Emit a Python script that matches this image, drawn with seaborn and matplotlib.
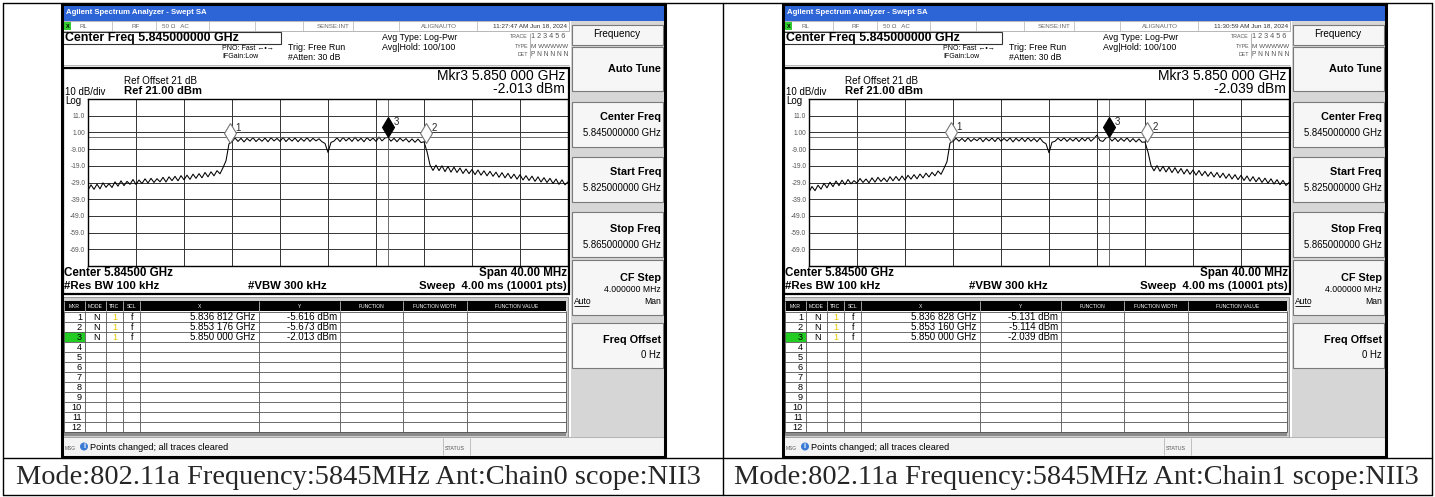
import matplotlib
matplotlib.use('Agg')
import matplotlib.pyplot as plt
import matplotlib.patches as patches
import matplotlib.transforms as mtransforms
import numpy as np
import seaborn as sns


# sweep 5.825 - 5.865 GHz, one reading every 0.25 MHz
start_ghz = 5.825
stop_ghz = 5.865
freq_ghz = np.linspace(start_ghz, stop_ghz, 161)

trace_ch0 = [
	-33.6, -30.4, -33.1, -30.0, -32.8, -29.2, -31.9, -29.7, -32.0, -28.6,
	-31.2, -28.0, -30.9, -28.3, -30.1, -27.2, -30.2, -27.5, -29.6, -26.8,
	-29.3, -26.5, -29.0, -26.7, -28.6, -25.9, -28.7, -25.6, -27.9, -25.3,
	-28.0, -24.9, -27.4, -24.6, -27.1, -24.0, -26.5, -23.7, -26.2, -23.0,
	-25.6, -22.6, -25.0, -21.9, -23.8, -20.1, -16.0, -5.8, -4.6, -2.3,
	-4.4, -2.5, -4.7, -2.6, -4.2, -2.1, -4.5, -2.7, -4.3, -2.4,
	-4.6, -2.2, -4.1, -2.6, -4.4, -2.0, -4.5, -2.5, -4.2, -2.3,
	-4.6, -2.6, -4.3, -2.2, -4.4, -2.5, -4.1, -2.8, -4.6, -5.6,
	-11.0, -5.0, -4.2, -2.3, -4.5, -2.0, -4.1, -2.4, -4.4, -1.9,
	-4.2, -2.5, -4.6, -2.1, -4.0, -2.4, -4.4, -1.8, -4.1, -2.3,
	-2.0, -4.3, -2.5, -4.6, -2.4, -4.2, -2.7, -4.8, -2.9, -4.9,
	-3.0, -5.1, -4.6, -10.5, -18.5, -21.8, -18.6, -21.9, -19.0, -22.5,
	-19.4, -22.8, -19.8, -23.0, -20.3, -23.6, -20.9, -23.7, -21.2, -24.3,
	-21.5, -24.6, -22.0, -25.0, -22.3, -25.3, -22.8, -25.9, -23.1, -26.2,
	-23.5, -26.6, -24.0, -27.0, -24.3, -27.5, -24.9, -27.8, -25.2, -28.3,
	-25.6, -28.7, -26.1, -29.0, -26.5, -29.6, -26.9, -30.1, -27.4, -30.4, -28.6,
]

trace_ch1 = [
	-34.8, -31.4, -33.9, -30.6, -33.0, -29.5, -32.2, -28.8, -31.5, -28.1,
	-30.9, -27.6, -30.3, -27.2, -29.8, -27.9, -29.4, -26.6, -29.0, -26.9,
	-29.2, -26.2, -28.8, -25.9, -28.4, -26.3, -28.6, -25.5, -28.0, -25.4,
	-27.9, -25.1, -27.6, -24.7, -27.0, -24.3, -26.8, -23.9, -26.3, -23.4,
	-25.7, -22.9, -25.0, -22.1, -24.1, -20.5, -16.5, -5.4, -4.4, -2.5,
	-4.3, -2.6, -4.5, -2.3, -4.4, -2.7, -4.0, -2.2, -4.6, -2.5,
	-4.1, -2.4, -4.5, -2.1, -4.3, -2.6, -4.2, -2.3, -4.7, -2.5,
	-4.2, -2.4, -4.5, -2.2, -4.3, -2.6, -4.6, -2.4, -4.7, -5.8,
	-11.2, -4.9, -4.3, -2.5, -4.1, -2.2, -4.4, -2.6, -4.2, -2.3,
	-4.5, -2.4, -4.1, -2.0, -4.3, -2.6, -0.6, -3.9, -4.4, -2.2,
	-2.0, -4.2, -2.4, -4.5, -2.6, -4.3, -2.3, -4.6, -2.7, -4.7,
	-2.9, -4.9, -4.7, -10.8, -18.8, -22.0, -18.9, -22.3, -19.3, -22.7,
	-19.8, -23.1, -20.1, -23.4, -20.6, -23.9, -21.1, -24.1, -21.5, -24.6,
	-21.8, -24.9, -22.3, -25.3, -22.7, -25.7, -23.0, -26.1, -23.4, -26.5,
	-23.9, -26.9, -24.3, -27.3, -24.7, -27.8, -25.1, -28.2, -25.5, -28.6,
	-26.0, -29.0, -26.4, -29.4, -26.8, -29.9, -27.3, -30.3, -27.7, -30.8, -29.0,
]

mkr_freq_ch0 = [5.836812, 5.853176, 5.850000]
mkr_level_ch0 = [-5.616, -5.673, -2.013]
mkr_freq_ch1 = [5.836828, 5.853160, 5.850000]
mkr_level_ch1 = [-5.131, -5.114, -2.039]

sweep_times = ["11:27:47 AM Jun 18, 2024", "11:30:59 AM Jun 18, 2024"]
captions = [
	"Mode:802.11a Frequency:5845MHz Ant:Chain0 scope:NII3",
	"Mode:802.11a Frequency:5845MHz Ant:Chain1 scope:NII3",
]

grid_levels = [21, 11, 1, -9, -19, -29, -39, -49, -59, -69, -79]
level_labels = ["", "11.0", "1.00", "-9.00", "-19.0", "-29.0", "-39.0", "-49.0", "-59.0", "-69.0", ""]

table_cols = ["MKR", "MODE", "TRC", "SCL", "X", "Y", "FUNCTION", "FUNCTION WIDTH", "FUNCTION VALUE"]

W, H = 1435, 497


def ghz_text(f):
	s = f"{f:.6f}"
	return s[:5] + " " + s[5:] + " GHz"


def draw_screen(fig, bg, dx, trace, mkr_f, mkr_l, time_str):

	def R(x0, y0, x1, y1, fc='none', ec='none', lw=0.8, z=1):
		bg.add_patch(patches.Rectangle((x0 + dx, y0), x1 - x0, y1 - y0, facecolor=fc,
			edgecolor=ec, linewidth=lw, zorder=z))

	def T(x, y, s, fs, ha='left', w='normal', c='black', z=5):
		bg.text(x + dx, y, s, fontsize=fs, ha=ha, va='center', fontweight=w, color=c, zorder=z)

	def L(x0, y0, x1, y1, c='black', lw=0.8, z=3):
		bg.plot([x0 + dx, x1 + dx], [y0, y1], color=c, lw=lw, zorder=z, solid_capstyle='butt')

	# whole screen
	R(62, 4, 665, 457, fc='white', z=0.5)

	# title bar + status row
	R(63, 5, 664, 21, fc='#2d64d6')
	T(66, 13, "Agilent Spectrum Analyzer - Swept SA", 5.6, w='bold', c='white')
	R(63, 21, 569, 31, fc='white', ec='#9a9a9a', lw=0.5)
	for sx in [112, 156, 209, 255, 303, 353, 399, 477]:
		L(sx, 21, sx, 31, c='#b0b0b0', lw=0.5)
	R(64, 22, 71, 30, fc='#33cc33', z=2)
	T(67.5, 26, "X", 4, ha='center', w='bold')
	T(80, 26, "RL", 4.5, c='#666')
	T(131, 26, "RF", 4.5, c='#666')
	T(162, 26, "50 Ω   AC", 4.5, c='#666')
	T(317, 26, "SENSE:INT", 4.5, c='#666')
	T(421, 26, "ALIGNAUTO", 4.5, c='#666')
	T(567, 26, time_str, 4.6, ha='right', c='#333')

	# header settings
	R(63, 32, 281, 44, fc='white', ec='#333', lw=0.8)
	T(65, 38.5, "Center Freq 5.845000000 GHz", 8.9, w='bold')
	T(222, 49, "PNO: Fast \u2190\u2022\u2192", 5.0)
	T(222, 57, "IFGain:Low", 5.0)
	T(288, 47, "Trig: Free Run", 6.4)
	T(288, 57, "#Atten: 30 dB", 6.2)
	T(382, 38, "Avg Type: Log-Pwr", 6.4)
	T(382, 47, "Avg|Hold: 100/100", 6.4)
	T(528, 37, "TRACE", 3.8, ha='right', c='#555')
	T(531, 37, "1 2 3 4 5 6", 5.2, c='#555')
	T(528, 46, "TYPE", 3.8, ha='right', c='#555')
	T(531, 46, "M WWWWW", 4.6, c='#555')
	T(528, 54, "DET", 3.8, ha='right', c='#555')
	T(531, 54, "P N N N N N", 4.8, c='#555')
	L(529.5, 33, 529.5, 58, c='#999', lw=0.5)
	L(63, 65, 569, 65, c='#aaaaaa', lw=0.6)

	# plot frame and its texts
	R(63, 68, 569, 294, fc='white', ec='black', lw=1.6, z=2)
	T(124, 81, "Ref Offset 21 dB", 7.1)
	T(124, 91, "Ref 21.00 dBm", 8.1, w='bold')
	T(65, 92, "10 dB/div", 7.0)
	T(65, 100.5, "Log", 7.0)
	T(565, 76, "Mkr3 " + ghz_text(mkr_f[2]), 10, ha='right')
	T(565, 89, f"{mkr_l[2]:.3f} dBm", 10, ha='right')
	T(64, 273, "Center 5.84500 GHz", 8.4, w='bold')
	T(64, 286, "#Res BW 100 kHz", 8.2, w='bold')
	T(248, 286, "#VBW 300 kHz", 8.2, w='bold')
	T(567, 273, "Span 40.00 MHz", 8.4, ha='right', w='bold')
	T(567, 286, "Sweep  4.00 ms (10001 pts)", 8.2, ha='right', w='bold')

	# marker table
	R(63, 297, 568, 437, fc='#cfcfcf', ec='#888', lw=0.6)
	R(64, 301, 566, 311, fc='black', z=2)
	R(64, 311, 566, 432, fc='white', z=2)
	R(64, 432, 566, 436, fc='#8c8c8c', z=2)
	cols = [64, 85, 106, 123, 140, 259, 340, 403, 467, 566]
	for i, name in enumerate(table_cols):
		T((cols[i] + cols[i + 1]) / 2, 306, name, 3.6, ha='center', c='white')
	for cx in cols:
		L(cx, 301, cx, 311, c='#ddd', lw=0.5)
		L(cx, 311, cx, 432, c='#555', lw=0.6)
	row_h = (432 - 312) / 12
	for k in range(13):
		L(64, 312 + k * row_h, 566, 312 + k * row_h, c='#555', lw=0.6)
	R(64, 312 + 2 * row_h, 85, 312 + 3 * row_h, fc='#22cc22', z=2.5)
	for k in range(12):
		cy = 312 + (k + 0.5) * row_h
		T(82, cy + 0.5, str(k + 1), 6.6, ha='right')
		if k < 3:
			T(93, cy + 0.5, "N", 6.6)
			T(115, cy + 0.5, "1", 6.6, ha='center', c='#e8c800')
			T(131, cy + 0.5, "f", 6.6)
			T(255, cy + 0.5, ghz_text(mkr_f[k]), 7, ha='right')
			T(337, cy + 0.5, f"{mkr_l[k]:.3f} dBm", 7, ha='right')

	# message bar
	R(63, 437, 665, 456, fc='#f3f3f3', ec='#999', lw=0.5)
	T(65, 448, "MSG", 3.5, c='#555')
	bg.add_patch(patches.Circle((84 + dx, 446.5), 4, facecolor='#3a7bd5', edgecolor='none', zorder=4))
	T(84, 446.5, "i", 5.2, ha='center', w='bold', c='white')
	T(90, 448, "Points changed; all traces cleared", 6.6)
	L(443, 438, 443, 455, c='#aaa', lw=0.5)
	L(470, 438, 470, 455, c='#aaa', lw=0.5)
	T(445, 448, "STATUS", 3.8, c='#555')

	# soft keys
	R(571, 21, 664, 437, fc='#d6d6d6')
	for y0, y1 in [(25, 45), (47, 91), (102, 147), (157, 202), (212, 257), (260, 315), (323, 368)]:
		R(572, y0, 663, y1, fc='#f6f6f6', ec='#7a7a7a', lw=0.8, z=1.5)
	T(617, 34, "Frequency", 7.2, ha='center')
	T(661, 69, "Auto Tune", 7.8, ha='right', w='bold')
	T(661, 117, "Center Freq", 7.8, ha='right', w='bold')
	T(661, 133, "5.845000000 GHz", 6.9, ha='right')
	T(661, 172, "Start Freq", 7.8, ha='right', w='bold')
	T(661, 188, "5.825000000 GHz", 6.9, ha='right')
	T(661, 229, "Stop Freq", 7.8, ha='right', w='bold')
	T(661, 245, "5.865000000 GHz", 6.9, ha='right')
	T(661, 278, "CF Step", 7.8, ha='right', w='bold')
	T(661, 290, "4.000000 MHz", 6.2, ha='right')
	T(574, 301, "Auto", 6.2)
	L(574, 305.5, 589, 305.5, lw=0.6)
	T(661, 301, "Man", 6.2, ha='right')
	T(661, 340, "Freq Offset", 7.8, ha='right', w='bold')
	T(661, 355, "0 Hz", 6.9, ha='right')

	# outer frame of the screenshot
	R(62, 4, 665, 457, ec='black', lw=2.2, z=6)

	# the trace itself
	ax = fig.add_axes([(88 + dx) / W, 1 - 266 / H, 480 / W, 167 / H])
	sns.lineplot(x=freq_ghz, y=trace, ax=ax, color='black', lw=0.75, estimator=None)
	ax.set_xlim(start_ghz, stop_ghz)
	ax.set_ylim(-79, 21)
	ax.set_xticks(np.linspace(start_ghz, stop_ghz, 11))
	ax.set_xticklabels([])
	ax.set_yticks(grid_levels)
	ax.set_yticklabels(level_labels)
	ax.tick_params(length=0, labelsize=4.8, labelcolor='#555', pad=2)
	ax.grid(True, color='#333', lw=0.7)
	ax.set_xlabel('')
	ax.set_ylabel('')
	for sp in ax.spines.values():
		sp.set_color('black')
		sp.set_linewidth(1.0)

	# marker 3 cross lines
	ax.axhline(mkr_l[2], color='#555', lw=0.6)
	ax.axvline(mkr_f[2], color='#555', lw=0.6)

	lift = mtransforms.offset_copy(ax.transData, fig=fig, x=0, y=7.5, units='points')
	for k in range(3):
		face = 'black' if k == 2 else 'white'
		edge = 'black' if k == 2 else '#777'
		ax.plot(mkr_f[k], mkr_l[k], marker='d', markersize=10, markerfacecolor=face,
			markeredgecolor=edge, markeredgewidth=0.8, transform=lift, zorder=5, clip_on=False)
		ax.annotate(str(k + 1), (mkr_f[k], mkr_l[k]), xytext=(4, 11), textcoords='offset points',
			fontsize=7, ha='left', va='center', zorder=6)


def main():
	sns.set_theme(style="white")
	plt.rcParams['font.family'] = ['Liberation Sans', 'DejaVu Sans']

	fig = plt.figure(figsize=(W / 100, H / 100), dpi=100)
	fig.patch.set_facecolor('white')
	bg = fig.add_axes([0, 0, 1, 1])
	bg.set_xlim(0, W)
	bg.set_ylim(H, 0)
	bg.axis('off')

	# outer table of the report
	for x in [3, 723, 1432]:
		bg.plot([x, x], [3, 495], color='black', lw=1.0, zorder=7)
	for y in [3, 458, 495]:
		bg.plot([3, 1432], [y, y], color='black', lw=1.0, zorder=7)

	draw_screen(fig, bg, 0, trace_ch0, mkr_freq_ch0, mkr_level_ch0, sweep_times[0])
	draw_screen(fig, bg, 721, trace_ch1, mkr_freq_ch1, mkr_level_ch1, sweep_times[1])

	for cx, cap in zip([358, 1076], captions):
		bg.text(cx, 477, cap, fontsize=20.4, ha='center', va='center',
			family=['Liberation Serif', 'DejaVu Serif'])

	fig.savefig('out.png', dpi=100)


if __name__ == "__main__":
	main()
